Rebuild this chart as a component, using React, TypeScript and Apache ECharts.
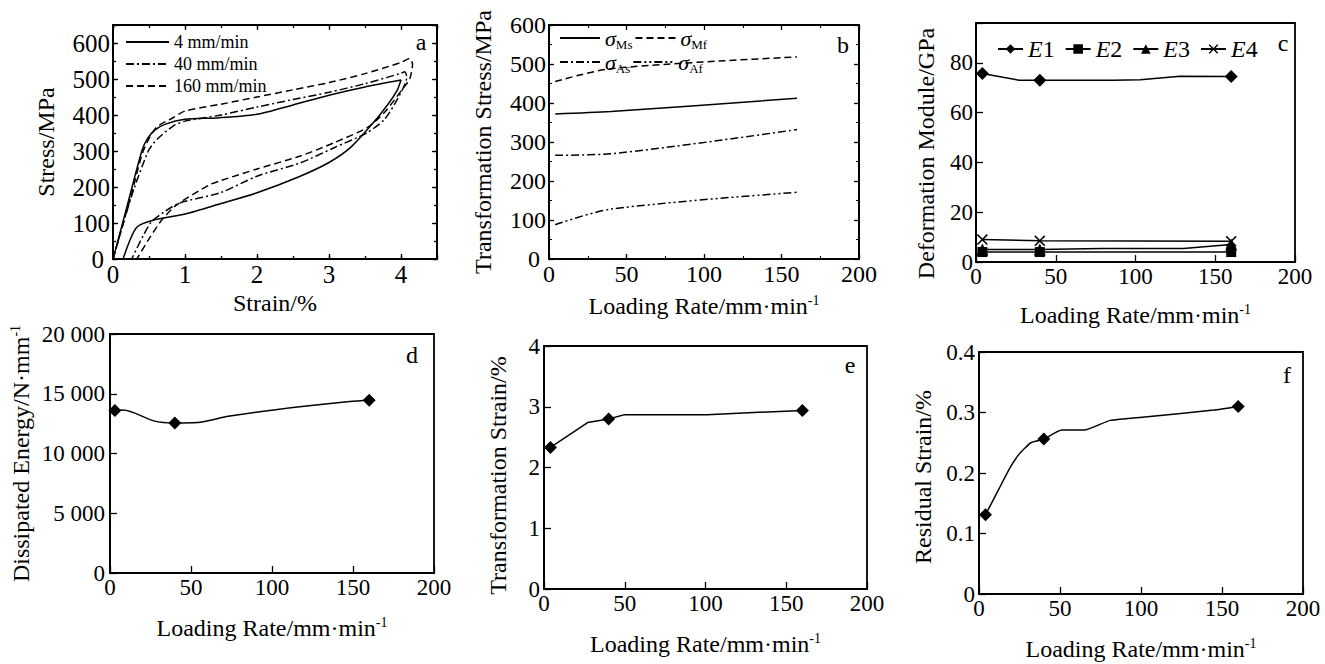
import React, { useEffect, useRef } from "react";
import * as echarts from "echarts";

// ---------- data ----------
// (a) stress-strain loops: [strain %, stress MPa], loading then unloading
const loop4: number[][] = [[0,0],[0.2,150],[0.4,300],[0.48,335],[0.58,358],[0.72,374],[1.0,388],[1.45,392],[2.0,402],[2.5,428],[3.0,455],[3.5,478],[4.0,497],[3.95,470],[3.82,430],[3.6,375],[3.3,310],[3.0,268],[2.6,230],[2.0,184],[1.5,154],[1.0,125],[0.6,110],[0.33,88],[0.14,0]];
const loop40: number[][] = [[0,0],[0.25,170],[0.49,300],[0.61,332],[0.84,370],[1.0,383],[1.5,400],[2.0,422],[2.5,443],[3.0,463],[3.5,487],[4.0,516],[4.05,520],[4.08,505],[3.95,444],[3.77,388],[3.53,351],[3.07,309],[2.6,267],[2.0,230],[1.49,184],[0.93,156],[0.72,132],[0.52,100],[0.26,0]];
const loop160: number[][] = [[0,0],[0.25,175],[0.42,300],[0.6,365],[0.84,393],[1.0,411],[1.5,430],[2.0,450],[2.5,470],[3.0,490],[3.5,515],[4.0,546],[4.12,557],[4.16,541],[4.12,500],[4.02,472],[3.77,407],[3.53,365],[3.07,323],[2.6,286],[2.0,250],[1.5,218],[1.35,207],[0.89,151],[0.68,109],[0.52,62],[0.33,0]];
const loopNames = ["4 mm/min", "40 mm/min", "160 mm/min"];

// (b) transformation stresses vs loading rate
const ratesB = [4, 40, 160];
const sigmaMs = [372, 378, 412];
const sigmaMf = [455, 488, 518];
const sigmaAs = [266, 270, 332];
const sigmaAf = [88, 128, 171];

// (c) deformation modules [rate, GPa]; markers at measured rates
const ratesC = [4, 40, 160];
const e1Curve: number[][] = [[4,75.7],[27,73],[40,73],[86,73],[103,73.2],[128,74.6],[160,74.5]];
const e2Curve: number[][] = [[4,4],[40,4],[160,4]];
const e3Curve: number[][] = [[4,5],[40,5],[79,5.4],[130,5.4],[160,7]];
const e4Curve: number[][] = [[4,9],[40,8.5],[160,8.3]];

// (d) dissipated energy
const ratesD = [3, 40, 160];
const energyCurve: number[][] = [[3,13600],[8,13650],[27,12730],[40,12550],[54,12590],[72,13090],[101,13650],[148,14345],[160,14450]];

// (e) transformation strain
const ratesE = [4, 40, 160];
const transStrainCurve: number[][] = [[4,2.33],[27,2.74],[40,2.8],[50,2.87],[101,2.87],[160,2.94]];

// (f) residual strain
const ratesF = [4, 40, 160];
const residualCurve: number[][] = [[4,0.131],[12,0.172],[19,0.208],[25,0.232],[32,0.25],[40,0.256],[51,0.271],[65,0.271],[81,0.287],[104,0.293],[145,0.304],[160,0.31]];

// ---------- style ----------
const SERIF = '"Liberation Serif", serif';
const BLACK = "#000";
const TITLE_FS = 24;
const FRAME_W = 1.8;

const titleRich = {
  t: { fontFamily: SERIF, fontSize: TITLE_FS, color: BLACK },
  sup: { fontFamily: SERIF, fontSize: 14, color: BLACK, padding: [0, 0, 12, 0] },
};

function mkAxis(o: any) {
  const fs = o.fs || 23;
  return {
    type: "value",
    gridIndex: o.grid,
    position: o.position,
    min: o.min,
    max: o.max,
    interval: o.interval,
    name: o.name,
    nameLocation: "middle",
    nameGap: o.nameGap,
    nameTextStyle: { fontFamily: SERIF, fontSize: TITLE_FS, color: BLACK, rich: titleRich, padding: o.namePad || 0 },
    axisLine: { show: true, onZero: false, lineStyle: { color: BLACK, width: FRAME_W } },
    axisTick: { show: o.tickLen > 0, inside: true, length: o.tickLen || 0, lineStyle: { color: BLACK, width: 1.3 } },
    minorTick: o.minor
      ? { show: true, splitNumber: o.minor, length: o.minorLen, lineStyle: { color: BLACK, width: 1.1 } }
      : { show: false },
    axisLabel: o.labels
      ? {
          show: true, fontFamily: SERIF, fontSize: fs, color: BLACK, margin: o.margin ?? 4, formatter: o.formatter,
          rich: { z: { fontFamily: SERIF, fontSize: fs, color: BLACK, padding: [0, 6, 0, 0] } },
        }
      : { show: false },
    splitLine: { show: false },
  };
}

const grids = [
  { left: 113, top: 25, width: 324, height: 234 },
  { left: 549, top: 25, width: 310, height: 234 },
  { left: 976, top: 23, width: 319, height: 239 },
  { left: 110, top: 334, width: 324, height: 239 },
  { left: 544, top: 346, width: 323, height: 243 },
  { left: 979, top: 352, width: 324, height: 242 },
].map((g) => ({ ...g, show: true, borderColor: BLACK, borderWidth: FRAME_W, backgroundColor: "transparent" }));

const loadTitle = "{t|Loading Rate/mm·min}{sup|-1}";

function thousands(v: number) {
  if (v < 1000) return String(v);
  const k = Math.floor(v / 1000);
  const r = String(v % 1000).padStart(3, "0");
  return `${k} ${r}`;
}

function markedData(curve: number[][], marks: number[]) {
  return curve.map(([x, y]) =>
    marks.includes(x) ? { value: [x, y] } : { value: [x, y], symbol: "none" }
  );
}

const crossPath = "path://M0,1L1,0L5,4L9,0L10,1L6,5L10,9L9,10L5,6L1,10L0,9L4,5Z";

function buildOption() {
  const xAxis: any[] = [];
  const yAxis: any[] = [];
  const addX = (o: any) => { xAxis.push(mkAxis(o)); return xAxis.length - 1; };
  const addY = (o: any) => { yAxis.push(mkAxis(o)); return yAxis.length - 1; };

  // ---- panel a ----
  const axA = addX({ grid: 0, position: "bottom", min: 0, max: 4.5, interval: 1, tickLen: 5, labels: true, margin: 3, fs: 25,
    formatter: (v: number) => (v <= 4 ? String(v) : ""), name: "{t|Strain/%}", nameGap: 32 });
  addX({ grid: 0, position: "bottom", min: 0, max: 4.5, interval: 0.5, tickLen: 3 });
  addX({ grid: 0, position: "top", min: 0, max: 4.5, interval: 1, tickLen: 5 });
  addX({ grid: 0, position: "top", min: 0, max: 4.5, interval: 0.5, tickLen: 3 });
  const ayA = addY({ grid: 0, position: "left", min: 0, max: 650, interval: 100, tickLen: 5, labels: true, margin: 3, fs: 25,
    formatter: (v: number) => (v === 0 ? "{z|0}" : v <= 600 ? String(v) : ""), name: "{t|Stress/MPa}", nameGap: 55 });
  addY({ grid: 0, position: "left", min: 0, max: 650, interval: 50, tickLen: 3 });
  addY({ grid: 0, position: "right", min: 0, max: 650, interval: 100, tickLen: 5 });
  addY({ grid: 0, position: "right", min: 0, max: 650, interval: 50, tickLen: 3 });

  // ---- panel b ----
  const axB = addX({ grid: 1, position: "bottom", min: 0, max: 200, interval: 50, tickLen: 5, minor: 2, minorLen: 3, labels: true, margin: 3, fs: 24,
    name: loadTitle, nameGap: 34 });
  addX({ grid: 1, position: "top", min: 0, max: 200, interval: 50, tickLen: 5, minor: 2, minorLen: 3 });
  const ayB = addY({ grid: 1, position: "left", min: 0, max: 600, interval: 100, tickLen: 5, minor: 2, minorLen: 3, labels: true, margin: 3, fs: 24,
    formatter: (v: number) => (v === 0 ? "{z|0}" : String(v)),
    name: "{t|Transformation Stress/MPa}", nameGap: 54 });
  addY({ grid: 1, position: "right", min: 0, max: 600, interval: 100, tickLen: 5, minor: 2, minorLen: 3 });

  // ---- panel c ----
  const axC = addX({ grid: 2, position: "bottom", min: 0, max: 200, interval: 50, tickLen: 7, labels: true, margin: 3,
    name: loadTitle, nameGap: 40 });
  const ayC = addY({ grid: 2, position: "left", min: 0, max: 96, interval: 20, tickLen: 7, labels: true, margin: 3,
    formatter: (v: number) => (v <= 80 ? String(v) : ""), name: "{t|Deformation Module/GPa}", nameGap: 38,
    namePad: [0, 22, 0, 0] });

  // ---- panel d ----
  const axD = addX({ grid: 3, position: "bottom", min: 0, max: 200, interval: 50, tickLen: 7, labels: true, margin: 3,
    name: loadTitle, nameGap: 42 });
  const ayD = addY({ grid: 3, position: "left", min: 0, max: 20000, interval: 5000, tickLen: 7, labels: true, margin: 5,
    formatter: thousands, name: "{t|Dissipated Energy/N·mm}{sup|-1}", nameGap: 76 });

  // ---- panel e ----
  const axE = addX({ grid: 4, position: "bottom", min: 0, max: 200, interval: 50, tickLen: 7, labels: true, margin: 3,
    name: loadTitle, nameGap: 42 });
  const ayE = addY({ grid: 4, position: "left", min: 0, max: 4, interval: 1, tickLen: 7, labels: true, margin: 4,
    name: "{t|Transformation Strain/%}", nameGap: 34, namePad: [0, 16, 0, 0] });

  // ---- panel f ----
  const axF = addX({ grid: 5, position: "bottom", min: 0, max: 200, interval: 50, tickLen: 7, labels: true, margin: 3,
    name: loadTitle, nameGap: 42 });
  const ayF = addY({ grid: 5, position: "left", min: 0, max: 0.4, interval: 0.1, tickLen: 7, labels: true, margin: 4,
    formatter: (v: number) => (v === 0 ? "0" : v.toFixed(1)), name: "{t|Residual Strain/%}", nameGap: 44,
    namePad: [0, 8, 0, 0] });

  const lw = 1.5;
  const dashDot = [8, 3, 2, 3];
  const dashDotDot = [8, 3, 2, 3, 2, 3];
  const dashed = [7, 4];

  const series: any[] = [];
  // a
  [loop4, loop40, loop160].forEach((d, i) => {
    series.push({
      type: "line", name: loopNames[i], xAxisIndex: axA, yAxisIndex: ayA, data: d,
      symbol: "none", smooth: 0.25,
      lineStyle: { color: BLACK, width: lw, type: i === 0 ? "solid" : i === 1 ? dashDot : dashed },
      itemStyle: { color: BLACK },
    });
  });
  // b
  const bSet: [string, number[], any][] = [
    ["σMs", sigmaMs, "solid"],
    ["σMf", sigmaMf, dashed],
    ["σAs", sigmaAs, dashDot],
    ["σAf", sigmaAf, dashDotDot],
  ];
  bSet.forEach(([name, vals, type]) => {
    series.push({
      type: "line", name, xAxisIndex: axB, yAxisIndex: ayB,
      data: ratesB.map((r, i) => [r, vals[i]]),
      symbol: "none", smooth: 0.3,
      lineStyle: { color: BLACK, width: lw, type },
      itemStyle: { color: BLACK },
    });
  });
  // c
  const cSet: [string, number[][], string, number][] = [
    ["E1", e1Curve, "diamond", 13],
    ["E2", e2Curve, "rect", 10],
    ["E3", e3Curve, "triangle", 12],
    ["E4", e4Curve, crossPath, 11],
  ];
  cSet.forEach(([name, curve, symbol, size]) => {
    series.push({
      type: "line", name, xAxisIndex: axC, yAxisIndex: ayC,
      data: markedData(curve, ratesC),
      symbol, symbolSize: size, showAllSymbol: true,
      lineStyle: { color: BLACK, width: lw },
      itemStyle: { color: BLACK },
    });
  });
  // d, e, f
  const single: [number, number, number[][], number[], any][] = [
    [axD, ayD, energyCurve, ratesD, 0.3],
    [axE, ayE, transStrainCurve, ratesE, false],
    [axF, ayF, residualCurve, ratesF, 0.15],
  ];
  single.forEach(([xi, yi, curve, marks, smooth], k) => {
    series.push({
      type: "line", name: ["d", "e", "f"][k] + "-curve", xAxisIndex: xi, yAxisIndex: yi,
      data: markedData(curve, marks),
      symbol: "diamond", symbolSize: 13, showAllSymbol: true, smooth,
      lineStyle: { color: BLACK, width: lw },
      itemStyle: { color: BLACK },
    });
  });

  const sigmaFormatter = (name: string) => `{s|σ}{sub|${name.slice(1)}}`;
  const sigmaRich = {
    s: { fontFamily: SERIF, fontSize: 22, fontStyle: "italic", color: BLACK },
    sub: { fontFamily: SERIF, fontSize: 13, color: BLACK, padding: [12, 0, 0, 0] },
  };
  const hiddenSymbol = { color: "rgba(0,0,0,0)", borderWidth: 0, opacity: 0 };

  const legend = [
    {
      data: loopNames, orient: "vertical", left: 120, top: 28, itemWidth: 43, itemHeight: 12, itemGap: 4,
      formatter: (n: string) => `{t|${n}}`,
      textStyle: { fontFamily: SERIF, color: BLACK, fontSize: 18, rich: { t: { fontFamily: SERIF, fontSize: 18, color: BLACK } } },
      itemStyle: hiddenSymbol, selectedMode: false,
    },
    {
      data: ["σMs", "σMf"], orient: "horizontal", left: 554, top: 22, itemWidth: 40, itemHeight: 12, itemGap: 2,
      formatter: sigmaFormatter, textStyle: { fontFamily: SERIF, color: BLACK, rich: sigmaRich },
      itemStyle: hiddenSymbol, selectedMode: false,
    },
    {
      data: ["σAs", "σAf"], orient: "horizontal", left: 554, top: 46, itemWidth: 40, itemHeight: 12, itemGap: 2,
      formatter: sigmaFormatter, textStyle: { fontFamily: SERIF, color: BLACK, rich: sigmaRich },
      itemStyle: hiddenSymbol, selectedMode: false,
    },
    {
      data: ["E1", "E2", "E3", "E4"], orient: "horizontal", left: 992, top: 32, itemWidth: 25, itemHeight: 12, itemGap: 10,
      formatter: (name: string) => `{i|E}{n|${name.slice(1)}}`,
      textStyle: {
        fontFamily: SERIF, color: BLACK,
        rich: {
          i: { fontFamily: SERIF, fontSize: 24, fontStyle: "italic", color: BLACK },
          n: { fontFamily: SERIF, fontSize: 24, color: BLACK },
        },
      },
      selectedMode: false,
    },
  ];

  const panelLabels: [string, number, number][] = [
    ["a", 421, 42], ["b", 843, 45], ["c", 1283, 43], ["d", 412, 355], ["e", 850, 365], ["f", 1287, 375],
  ];
  const graphic = panelLabels.map(([t, x, y]) => ({
    type: "text", x, y,
    style: { text: t, fontFamily: SERIF, fontSize: 24, fill: BLACK, align: "center", verticalAlign: "middle" },
  }));

  return {
    animation: false,
    backgroundColor: "#fff",
    textStyle: { fontFamily: SERIF },
    grid: grids,
    xAxis,
    yAxis,
    legend,
    series,
    graphic,
  };
}

export default function App() {
  const ref = useRef<HTMLDivElement>(null);
  useEffect(() => {
    if (!ref.current) return;
    const chart = echarts.init(ref.current, undefined, { renderer: "svg" });
    chart.setOption(buildOption() as any);
    return () => chart.dispose();
  }, []);
  return (
    <div
      ref={ref}
      style={{ position: "absolute", left: 0, top: 0, width: 1325, height: 664, background: "#fff" }}
    />
  );
}
